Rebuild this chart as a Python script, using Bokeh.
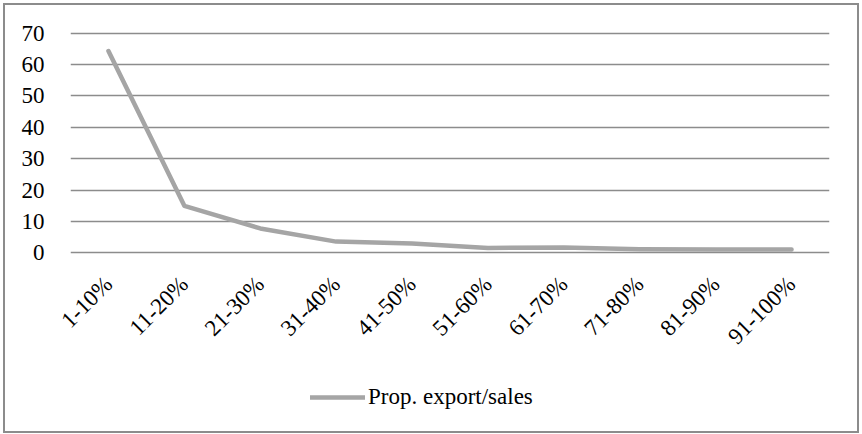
import math
from bokeh.plotting import figure
from bokeh.layouts import column
from bokeh.models import (ColumnDataSource, FixedTicker, Legend, LegendItem,
                          Range1d, FactorRange)
from bokeh.embed import file_html
from bokeh.resources import INLINE

# Share of firms by export/sales bracket
brackets = ["1-10%", "11-20%", "21-30%", "31-40%", "41-50%",
            "51-60%", "61-70%", "71-80%", "81-90%", "91-100%"]
prop_export_sales = [64.3, 15.0, 7.8, 3.6, 3.0, 1.6, 1.7, 1.2, 1.1, 1.1]
y_ticks = [0, 10, 20, 30, 40, 50, 60, 70]
series_name = "Prop. export/sales"

FONT = "Liberation Serif"
GRID = "#8c8c8c"
LINE = "#a5a5a5"
line_style = dict(line_color=LINE, line_width=4.5,
                  line_cap="round", line_join="round")

src = ColumnDataSource(dict(x=brackets, y=prop_export_sales))

# --- main chart ---------------------------------------------------------
p = figure(width=852, height=355, x_range=brackets,
           y_range=Range1d(-0.5, 70.5),
           output_backend="svg", toolbar_location=None,
           min_border_left=65, min_border_right=28,
           min_border_top=26, min_border_bottom=106)
p.outline_line_color = None
p.background_fill_color = "white"
p.border_fill_color = "white"

p.line("x", "y", source=src, **line_style)

p.xgrid.grid_line_color = None
p.ygrid.grid_line_color = GRID
p.ygrid.grid_line_width = 1.5
p.yaxis.ticker = FixedTicker(ticks=y_ticks)

for ax in (p.xaxis, p.yaxis):
    ax.axis_line_color = None
    ax.major_tick_line_color = None
    ax.minor_tick_line_color = None
    ax.major_label_text_font = FONT
    ax.major_label_text_font_size = "23px"
    ax.major_label_text_color = "black"

p.yaxis.major_label_standoff = 20
p.xaxis.major_label_orientation = math.pi / 4
p.xaxis.major_label_standoff = 20

# --- legend strip below the chart ---------------------------------------
# the series is drawn again here only to serve as the legend key; the
# y range keeps the line itself out of view
lg = figure(width=852, height=71, x_range=FactorRange(factors=brackets),
            y_range=Range1d(1000, 1001),
            x_axis_type=None, y_axis_type=None,
            output_backend="svg", toolbar_location=None,
            min_border=0)
lg.outline_line_color = None
lg.xgrid.grid_line_color = None
lg.ygrid.grid_line_color = None
lg.background_fill_color = "white"
lg.border_fill_color = "white"
key = lg.line("x", "y", source=src, **line_style)

legend = Legend(items=[LegendItem(label=series_name, renderers=[key])],
                location=(240, 21), orientation="horizontal",
                label_text_font=FONT, label_text_font_size="23px",
                label_text_color="black",
                glyph_width=55, glyph_height=22, label_height=22,
                label_standoff=3, padding=0, margin=0,
                border_line_color=None, background_fill_alpha=0)
lg.add_layout(legend, "center")

layout = column(p, lg, spacing=0,
                styles={"border": "2px solid #8c8c8c",
                        "margin": "3px 0 0 3px"})

open("out.html", "w").write(file_html(layout, INLINE))
